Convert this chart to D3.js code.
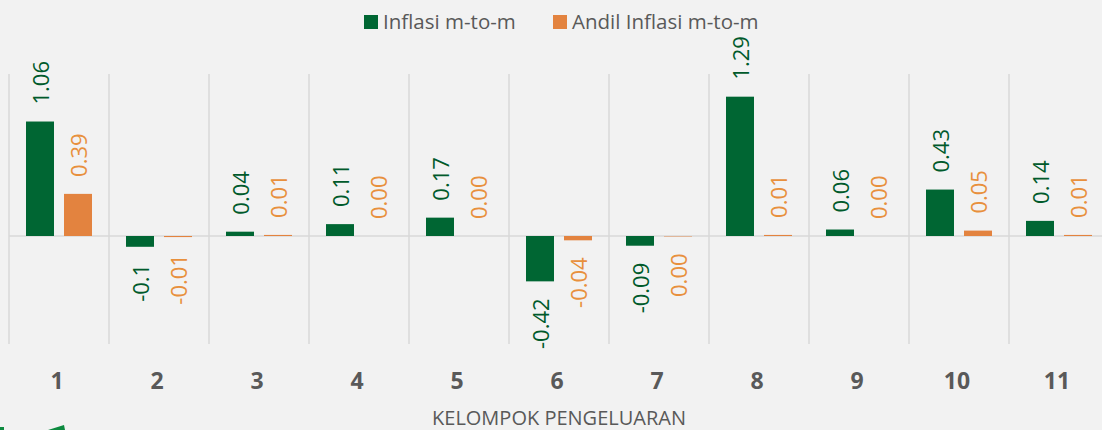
<!DOCTYPE html>
<html>
<head>
<meta charset="utf-8">
<script src="https://cdn.jsdelivr.net/npm/d3@7"></script>
<style>
  html, body { margin: 0; padding: 0; background: #f2f2f2; }
  svg { display: block; font-family: "Open Sans", "Noto Sans", sans-serif; }
</style>
</head>
<body>
<svg id="chart" width="1102" height="430"></svg>
<script>
// Category codes (kelompok pengeluaran)
const categories = ['1', '2', '3', '4', '5', '6', '7', '8', '9', '10', '11'];

// Series values
const inflasiMtm = [1.06, -0.1, 0.04, 0.11, 0.17, -0.42, -0.09, 1.29, 0.06, 0.43, 0.14];
const andilMtm   = [0.39, -0.01, 0.01, 0.00, 0.00, -0.04, -0.004, 0.01, 0.00, 0.05, 0.01];

const seriesNames = ['Inflasi m-to-m', 'Andil Inflasi m-to-m'];
const xTitle = 'KELOMPOK PENGELUARAN';

const W = 1102, H = 430;
const colors = { bar: ['#006633', '#e3833f'], label: ['#005a2b', '#e8903d'] };

const svg = d3.select('#chart');

// Scales: the plot runs past the right edge, like the original crop
const x0 = d3.scaleBand().domain(categories).range([9, 1109]).paddingInner(0).paddingOuter(0);
const x1 = d3.scaleBand().domain([0, 1]).range([17, 83]).paddingInner(10 / 38).paddingOuter(0);
const y = d3.scaleLinear().domain([-1, 1.5]).range([344, 74]);

// Vertical gridlines at category boundaries
const bounds = categories.map(c => x0(c)).concat([x0.range()[1]]);
svg.append('g')
  .selectAll('line')
  .data(bounds)
  .join('line')
  .attr('x1', d => d).attr('x2', d => d)
  .attr('y1', y(1.5)).attr('y2', y(-1))
  .attr('stroke', '#d9d9d9')
  .attr('stroke-width', 1.5);

// Zero line
svg.append('line')
  .attr('x1', x0.range()[0]).attr('x2', W)
  .attr('y1', y(0)).attr('y2', y(0))
  .attr('stroke', '#d9d9d9')
  .attr('stroke-width', 1.5);

// Flatten into rows for binding
const rows = [];
categories.forEach((c, i) => {
  rows.push({ cat: c, s: 0, v: inflasiMtm[i] });
  rows.push({ cat: c, s: 1, v: andilMtm[i] });
});

const fmt = [
  v => String(v),
  v => { const t = v.toFixed(2); return +t === 0 ? Math.abs(+t).toFixed(2) : t; }
];

// Bars
svg.append('g')
  .selectAll('rect')
  .data(rows)
  .join('rect')
  .attr('x', d => x0(d.cat) + x1(d.s))
  .attr('width', x1.bandwidth())
  .attr('y', d => y(Math.max(0, d.v)))
  .attr('height', d => Math.abs(y(d.v) - y(0)))
  .attr('fill', d => colors.bar[d.s]);

// Rotated value labels, outside the bar end
const gap = 17;
svg.append('g')
  .selectAll('text')
  .data(rows)
  .join('text')
  .attr('transform', d => {
    const cx = x0(d.cat) + x1(d.s) + x1.bandwidth() / 2;
    const cy = d.v >= 0 ? y(d.v) - gap : y(d.v) + gap;
    return `translate(${cx},${cy}) rotate(-90)`;
  })
  .attr('text-anchor', d => d.v >= 0 ? 'start' : 'end')
  .attr('dominant-baseline', 'central')
  .attr('font-size', 22)
  .attr('fill', d => colors.label[d.s])
  .text(d => fmt[d.s](d.v));

// Category labels
svg.append('g')
  .selectAll('text')
  .data(categories)
  .join('text')
  .attr('x', d => x0(d) + x0.bandwidth() / 2 - 2)
  .attr('y', 389)
  .attr('text-anchor', 'middle')
  .attr('font-size', 23)
  .attr('font-weight', 'bold')
  .attr('fill', '#595959')
  .text(d => d);

// Axis title
svg.append('text')
  .attr('x', 559)
  .attr('y', 425)
  .attr('text-anchor', 'middle')
  .attr('font-size', 20)
  .attr('fill', '#595959')
  .text(xTitle);

// Legend
const legendX = [364, 553];
const legend = svg.append('g')
  .selectAll('g')
  .data(seriesNames)
  .join('g')
  .attr('transform', (d, i) => `translate(${legendX[i]},15)`);
legend.append('rect')
  .attr('width', 14).attr('height', 14)
  .attr('fill', (d, i) => colors.bar[i]);
legend.append('text')
  .attr('x', 19).attr('y', 14)
  .attr('font-size', 20.5)
  .attr('fill', '#595959')
  .text(d => d);

// Cropped logo edge at bottom-left
svg.append('path')
  .attr('d', 'M0,427 L4,427 L4,430 L0,430 Z M48,430 L64,425 L65,430 Z')
  .attr('fill', '#0d8a3f');
</script>
</body>
</html>
